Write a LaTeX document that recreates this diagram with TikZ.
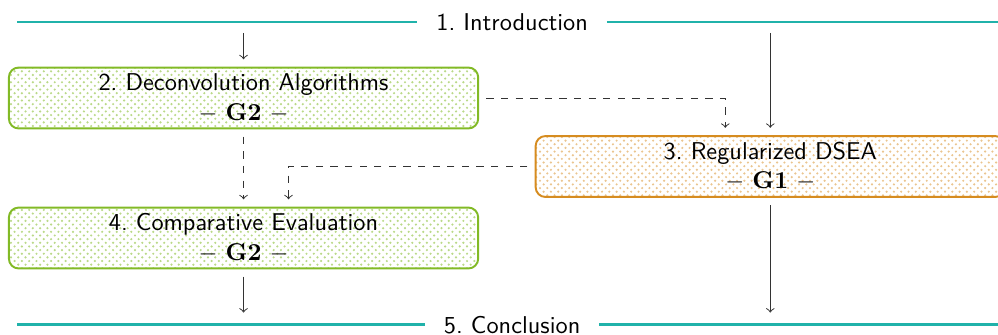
\documentclass[tikz,border=0pt]{standalone}
\usepackage{tikz}
\usepackage{amsmath}
\usetikzlibrary{positioning}
\usetikzlibrary{calc,patterns}

\definecolor{ruleteal}{RGB}{32,178,170}
\definecolor{groupgreen}{RGB}{130,186,38}
\definecolor{grouporange}{RGB}{214,140,32}

\frenchspacing

\begin{document}
\begin{tikzpicture}
	\tikzset{
		chapter box/.style = {shape=rectangle, rounded corners=4pt, thick, minimum width=6.78cm, minimum height=0.88cm, inner ysep=2pt, align=center, font=\sffamily, pattern=crosshatch dots},
		group two/.style = {chapter box, draw=groupgreen, pattern color=groupgreen!55},
		group one/.style = {chapter box, draw=grouporange, pattern color=grouporange!50},
		chapter rule/.style = {color=ruleteal, line width=1.2pt},
		chapter label/.style = {font=\sffamily, inner xsep=7.6pt},
		flow/.style = {->, black!80, shorten <=3pt, shorten >=3pt},
		depends/.style = {flow, dashed}
		}
	\useasboundingbox (0,0) rectangle (14.42,-4.826);

	% intro and conclusion rules
	\path 	(7.40,-0.318) node [name=intro, chapter label] {1. Introduction}
			(7.40,-4.692) node [name=concl, chapter label] {5. Conclusion};
	\coordinate (intro left) at (0.246,-0.318);
	\coordinate (intro right) at (14.42,-0.318);
	\coordinate (concl left) at (0.246,-4.692);
	\coordinate (concl right) at (14.42,-4.692);
	\draw [chapter rule] (intro left) -- (intro.west);
	\draw [chapter rule] (intro.east) -- (intro right);
	\draw [chapter rule] (concl left) -- (concl.west);
	\draw [chapter rule] (concl.east) -- (concl right);

	% chapters
	\path 	(3.519,-1.416) node [name=deconv, group two] {2. Deconvolution Algorithms\\$-$ $\mathbf{G2}$ $-$}
			(11.13,-2.406) node [name=dsea, group one] {3. Regularized DSEA\\$-$ $\mathbf{G1}$ $-$}
			(3.519,-3.439) node [name=compare, group two] {4. Comparative Evaluation\\$-$ $\mathbf{G2}$ $-$};

	\draw [flow, shorten <=4.5pt] (deconv.north |- intro) -- (deconv.north);
	\draw [flow, shorten <=4.5pt] (dsea.north |- intro) -- (dsea.north);
	\draw [depends] (deconv.east) -| ([xshift=-0.65cm]dsea.north);
	\draw [depends] (deconv.south) -- (compare.north);
	\draw [depends] (dsea.west) -| ([xshift=0.65cm]compare.north);
	\draw [flow, shorten >=5pt] (compare.south) -- (compare.south |- concl);
	\draw [flow, shorten >=5pt] (dsea.south) -- (dsea.south |- concl);

\end{tikzpicture}
\end{document}
